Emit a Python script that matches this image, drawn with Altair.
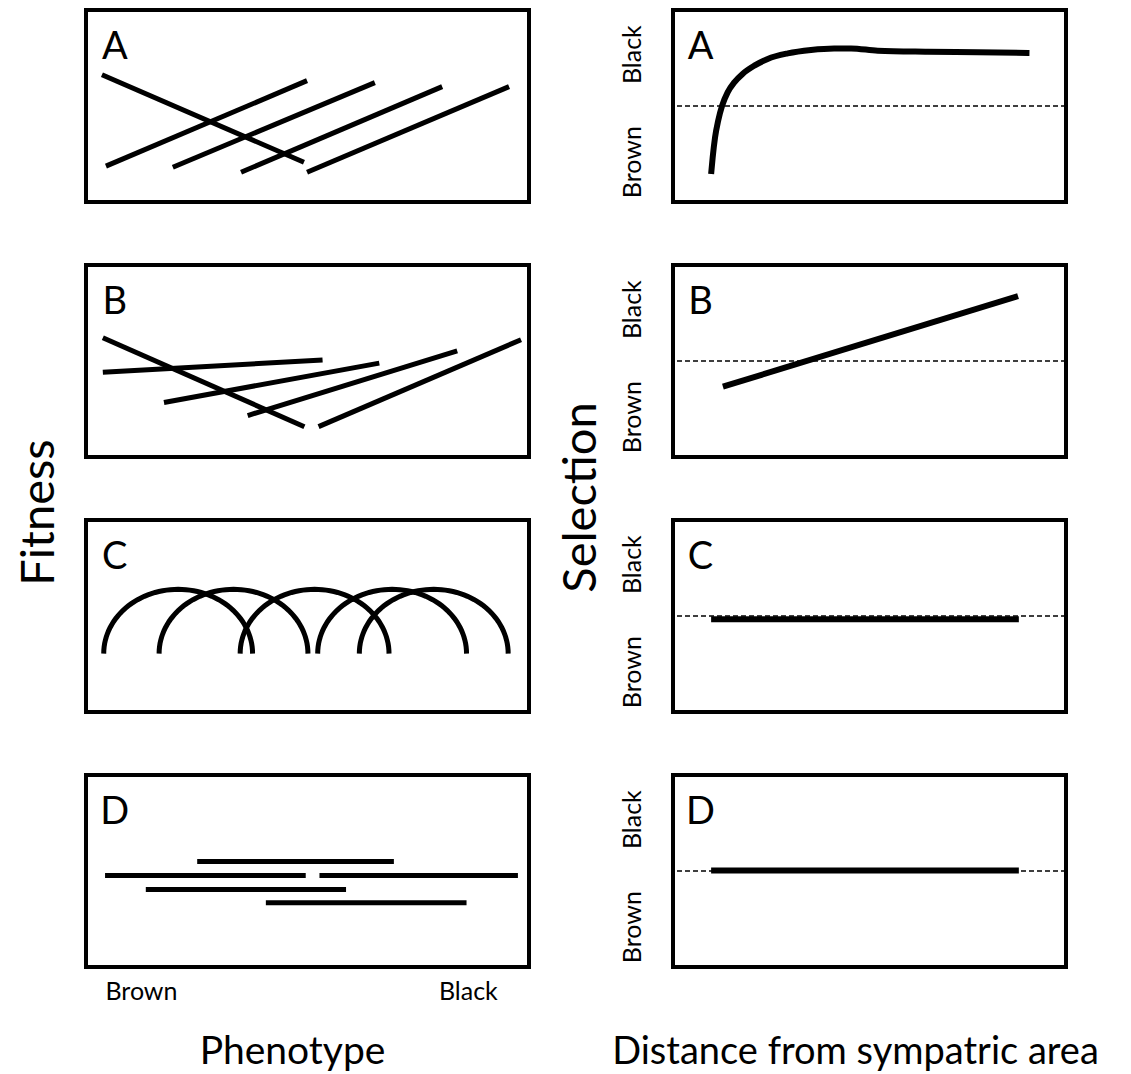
import altair as alt
import pandas as pd
import numpy as np

FONT = "Lato"

# ---------------- data (panel units 0-100, y up) ----------------
# Left A: linear fitness functions (x0,y0)->(x1,y1)
A_x0 = [3.6, 4.5, 19.6, 35.0, 49.9]
A_y0 = [66.3, 18.7, 18.1, 15.5, 15.5]
A_x1 = [49.2, 49.9, 65.2, 80.4, 95.5]
A_y1 = [20.7, 63.2, 62.2, 60.1, 60.1]

# Left B
B_x0 = [3.8, 3.8, 17.6, 36.5, 52.5]
B_y0 = [62.1, 44.2, 28.4, 21.6, 15.8]
B_x1 = [49.3, 53.4, 66.2, 83.8, 98.2]
B_y1 = [15.8, 50.5, 48.9, 55.3, 61.1]

# Left C: arch-shaped fitness functions
C_centers = [20.8, 33.3, 51.6, 69.1, 78.5]
C_halfwidth = 16.8
C_base = 30.4
C_top = 63.9

# Left D: flat fitness functions
D_x0 = [25.1, 4.3, 52.7, 13.5, 40.6]
D_x1 = [69.5, 49.6, 97.5, 58.7, 85.9]
D_y = [55.0, 47.6, 47.6, 40.3, 33.5]

# Right panels: selection vs distance
RA_x = [9.7, 10.1, 10.7, 11.5, 12.5, 13.9, 15.6, 17.7, 20.7, 24.1, 29.2, 35.1,
        41.0, 45.3, 52.1, 64.8, 77.5, 90.7]
RA_y = [14.6, 23.3, 33.7, 42.4, 50.2, 57.1, 62.3, 66.7, 71.0, 74.5, 77.4, 79.2,
        80.0, 80.0, 78.8, 78.3, 78.0, 77.6]
RB_x = [12.7, 87.8]
RB_y = [36.6, 83.8]
RC_x = [9.7, 88.0]
RC_y = [48.3, 48.3]
RD_x = [9.7, 88.0]
RD_y = [50.3, 50.3]

NEUTRAL = 50
PANEL_LETTERS = ["A", "B", "C", "D"]

LW, LH = 443, 192
RW, RH = 393, 192

dom = [0, 100]
xs = alt.Scale(domain=dom, nice=False, zero=False)
ys = alt.Scale(domain=dom, nice=False, zero=False)


def seg_df(x0, y0, x1, y1):
    return pd.DataFrame({"x0": x0, "y0": y0, "x1": x1, "y1": y1})


def letter_layer(letter, lx, xenc_axis, yenc_axis):
    return alt.Chart(pd.DataFrame({"t": [letter], "x": [lx], "y": [80]})).mark_text(
        font=FONT, fontSize=38, align="center", baseline="middle", color="black"
    ).encode(
        x=alt.X("x:Q", scale=xs, axis=xenc_axis),
        y=alt.Y("y:Q", scale=ys, axis=yenc_axis),
        text="t:N",
    )


def rules_layer(df, width=5):
    return alt.Chart(df).mark_rule(color="black", strokeWidth=width).encode(
        x=alt.X("x0:Q", scale=xs), x2="x1", y=alt.Y("y0:Q", scale=ys), y2="y1"
    )


# ---- left panels ----
left_bottom_axis = alt.Axis(
    values=[12.4, 86.2],
    labelExpr="datum.value < 50 ? 'Brown' : 'Black'",
    ticks=False, domain=False, grid=False,
    labelFont=FONT, labelFontSize=25, labelColor="black", labelPadding=12,
    title="Phenotype", titleFont=FONT, titleFontSize=39, titleFontWeight="normal",
    titleColor="black", titlePadding=28, titleX=206,
)


def left_panel(i, body_layers, bottom=False):
    xa = left_bottom_axis if bottom else None
    return alt.layer(letter_layer(PANEL_LETTERS[i], 6.5, xa, None), *body_layers).properties(
        width=LW, height=LH
    )


lA = left_panel(0, [rules_layer(seg_df(A_x0, A_y0, A_x1, A_y1))])
lB = left_panel(1, [rules_layer(seg_df(B_x0, B_y0, B_x1, B_y1))])

th = np.linspace(np.pi, 0, 61)
arc_rows = []
for k, c in enumerate(C_centers):
    for j, t in enumerate(th):
        arc_rows.append({"id": k, "o": j,
                         "x": c + C_halfwidth * np.cos(t),
                         "y": C_base + (C_top - C_base) * np.sin(t)})
arc_df = pd.DataFrame(arc_rows)
arcs = alt.Chart(arc_df).mark_line(color="black", strokeWidth=5).encode(
    x=alt.X("x:Q", scale=xs), y=alt.Y("y:Q", scale=ys), detail="id:N", order="o:Q"
)
lC = left_panel(2, [arcs])
lD = left_panel(3, [rules_layer(seg_df(D_x0, D_y, D_x1, D_y))], bottom=True)

# ---- right panels ----
right_y_axis = alt.Axis(
    values=[21, 77],
    labelExpr="datum.value < 50 ? 'Brown' : 'Black'",
    ticks=False, domain=False, grid=False, labelAngle=270,
    labelAlign="center", labelBaseline="bottom",
    labelFont=FONT, labelFontSize=25, labelColor="black", labelPadding=28,
    title=None,
)
right_bottom_axis = alt.Axis(
    labels=False, ticks=False, domain=False, grid=False,
    title="Distance from sympatric area", titleFont=FONT, titleFontSize=38,
    titleFontWeight="normal", titleColor="black", titlePadding=66, titleX=182,
)


def right_panel(i, cx, cy, bottom=False):
    xa = right_bottom_axis if bottom else None
    dash = alt.Chart(pd.DataFrame({"n": [NEUTRAL]})).mark_rule(
        color="black", strokeWidth=1.5, strokeDash=[5, 3]
    ).encode(y=alt.Y("n:Q", scale=ys))
    curve = alt.Chart(pd.DataFrame({"x": cx, "y": cy})).mark_line(
        color="black", strokeWidth=6, interpolate="monotone"
    ).encode(x=alt.X("x:Q", scale=xs), y=alt.Y("y:Q", scale=ys))
    return alt.layer(letter_layer(PANEL_LETTERS[i], 7, xa, right_y_axis), dash, curve).properties(
        width=RW, height=RH
    )


rA = right_panel(0, RA_x, RA_y)
rB = right_panel(1, RB_x, RB_y)
rC = right_panel(2, RC_x, RC_y)
rD = right_panel(3, RD_x, RD_y, bottom=True)

left_col = alt.vconcat(
    lA, lB, lC, lD, spacing=59,
    title=alt.TitleParams("Fitness", orient="left", anchor="middle", font=FONT,
                          fontSize=47, fontWeight="normal", color="black", offset=20, dx=28),
)
right_col = alt.vconcat(
    rA, rB, rC, rD, spacing=59,
    title=alt.TitleParams("Selection", orient="left", anchor="middle", font=FONT,
                          fontSize=47, fontWeight="normal", color="black", offset=4, dx=43),
)

chart = alt.hconcat(left_col, right_col, spacing=26).properties(
    padding={"left": 8, "top": 0, "right": 0, "bottom": 0}, background="white"
).configure_view(stroke="black", strokeWidth=4)

chart.save("out.html", embed_options={"renderer": "svg", "actions": False})
